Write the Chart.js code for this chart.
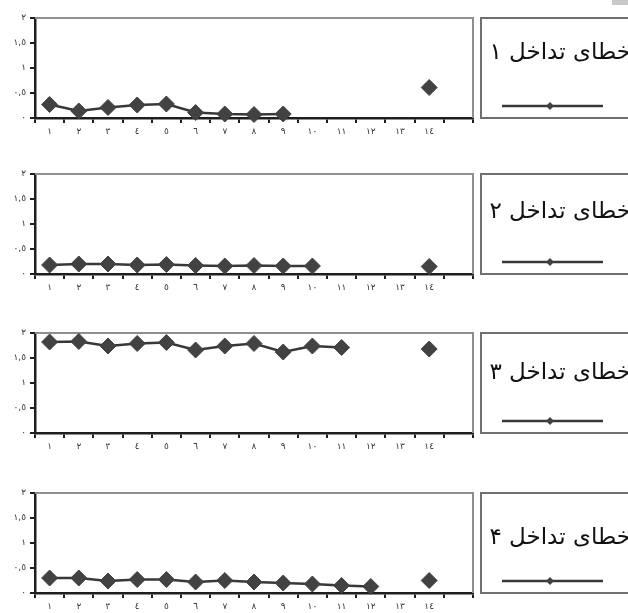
<!DOCTYPE html>
<html>
<head>
<meta charset="utf-8">
<script src="https://cdn.jsdelivr.net/npm/chart.js@4.4.0/dist/chart.umd.min.js"></script>
<style>
  html, body { margin: 0; padding: 0; background: #fff; overflow: hidden; }
  body { width: 628px; height: 613px; position: relative; }
  canvas { position: absolute; left: 0; }
  .corner { position: absolute; right: 0; top: 0; width: 16px; height: 5px; background: #c8c8c8; }
</style>
</head>
<body>
<div class="corner"></div>
<canvas id="c1" width="628" height="140" style="top:8px"></canvas>
<canvas id="c2" width="628" height="140" style="top:164px"></canvas>
<canvas id="c3" width="628" height="140" style="top:323px"></canvas>
<canvas id="c4" width="628" height="140" style="top:483px"></canvas>
<script>
// categories (last one is an empty slot at the right end of each axis)
var xLabels = ['١', '٢', '٣', '٤', '٥', '٦', '٧', '٨', '٩', '١٠', '١١', '١٢', '١٣', '١٤', ''];
var yTickLabels = ['٠', '٠,٥', '١', '١,٥', '٢'];
var seriesNames = ['خطای تداخل ۱', 'خطای تداخل ۲', 'خطای تداخل ۳', 'خطای تداخل ۴'];

var series1 = [0.27, 0.14, 0.21, 0.26, 0.28, 0.11, 0.08, 0.07, 0.08, null, null, null, null, 0.61, null];
var series2 = [0.18, 0.20, 0.20, 0.18, 0.19, 0.17, 0.16, 0.17, 0.16, 0.16, null, null, null, 0.15, null];
var series3 = [1.82, 1.83, 1.74, 1.79, 1.81, 1.66, 1.74, 1.79, 1.62, 1.74, 1.71, null, null, 1.68, null];
var series4 = [0.30, 0.30, 0.24, 0.27, 0.27, 0.22, 0.25, 0.22, 0.20, 0.18, 0.15, 0.13, null, 0.25, null];

var allSeries = [series1, series2, series3, series4];
var textOffsets = [35, 38, 40, 45];

// gray frame on top and right of the plot area
var plotFrame = {
  id: 'plotFrame',
  beforeDatasetsDraw: function (chart) {
    var ctx = chart.ctx, a = chart.chartArea;
    ctx.save();
    ctx.strokeStyle = '#8f8f8f';
    ctx.lineWidth = 2;
    ctx.beginPath();
    ctx.moveTo(a.left, a.top);
    ctx.lineTo(a.right, a.top);
    ctx.lineTo(a.right, a.bottom);
    ctx.stroke();
    ctx.restore();
  }
};

// boxed legend to the right of the plot
var legendBox = {
  id: 'legendBox',
  afterDraw: function (chart, args, opts) {
    var ctx = chart.ctx, a = chart.chartArea, ds = chart.data.datasets[0];
    var left = a.right + 8, top = a.top, h = a.bottom - a.top;
    ctx.save();
    ctx.strokeStyle = '#707070';
    ctx.lineWidth = 2;
    ctx.strokeRect(left, top, 220, h);

    ctx.fillStyle = '#111';
    ctx.font = '23px "DejaVu Sans"';
    ctx.direction = 'rtl';
    ctx.textAlign = 'right';
    ctx.textBaseline = 'middle';
    ctx.fillText(ds.label, chart.width + 3, top + opts.textOffset);

    var ly = top + 88, mx = left + 69;
    ctx.strokeStyle = ds.borderColor;
    ctx.lineWidth = 2.5;
    ctx.beginPath();
    ctx.moveTo(left + 21, ly);
    ctx.lineTo(left + 122, ly);
    ctx.stroke();
    ctx.fillStyle = ds.pointBackgroundColor;
    ctx.beginPath();
    ctx.moveTo(mx, ly - 4);
    ctx.lineTo(mx + 4, ly);
    ctx.lineTo(mx, ly + 4);
    ctx.lineTo(mx - 4, ly);
    ctx.closePath();
    ctx.fill();
    ctx.restore();
  }
};

function makeChart(id, idx) {
  var tickFont = { family: 'DejaVu Sans', size: 9 };
  return new Chart(document.getElementById(id), {
    type: 'line',
    data: {
      labels: xLabels,
      datasets: [{
        label: seriesNames[idx],
        data: allSeries[idx],
        borderColor: '#383838',
        borderWidth: 2.5,
        pointStyle: 'rectRot',
        pointRadius: 8,
        pointHoverRadius: 8,
        pointBackgroundColor: '#424242',
        pointBorderColor: '#424242',
        pointBorderWidth: 1,
        spanGaps: false,
        tension: 0,
        clip: false
      }]
    },
    options: {
      responsive: false,
      animation: false,
      events: [],
      layout: { padding: { top: 10, right: 155, left: 0, bottom: 0 } },
      scales: {
        x: {
          type: 'category',
          offset: true,
          grid: { display: true, offset: true, drawOnChartArea: false, drawTicks: true, tickLength: 5, color: '#1e1e1e', lineWidth: 2 },
          border: { display: true, color: '#1e1e1e', width: 2.5 },
          ticks: { font: tickFont, color: '#333', padding: 3, maxRotation: 0, autoSkip: false },
          afterFit: function (s) { s.height = 30; }
        },
        y: {
          min: 0,
          max: 2,
          grid: { display: true, drawOnChartArea: false, drawTicks: true, tickLength: 5, color: '#1e1e1e', lineWidth: 2 },
          border: { display: true, color: '#1e1e1e', width: 2.5 },
          ticks: {
            stepSize: 0.5,
            font: tickFont,
            color: '#333',
            padding: 4,
            callback: function (v) { return yTickLabels[Math.round(v * 2)]; }
          },
          afterFit: function (s) { s.width = 35; }
        }
      },
      plugins: {
        legend: { display: false },
        tooltip: { enabled: false },
        legendBox: { textOffset: textOffsets[idx] }
      }
    },
    plugins: [plotFrame, legendBox]
  });
}

makeChart('c1', 0);
makeChart('c2', 1);
makeChart('c3', 2);
makeChart('c4', 3);
</script>
</body>
</html>
